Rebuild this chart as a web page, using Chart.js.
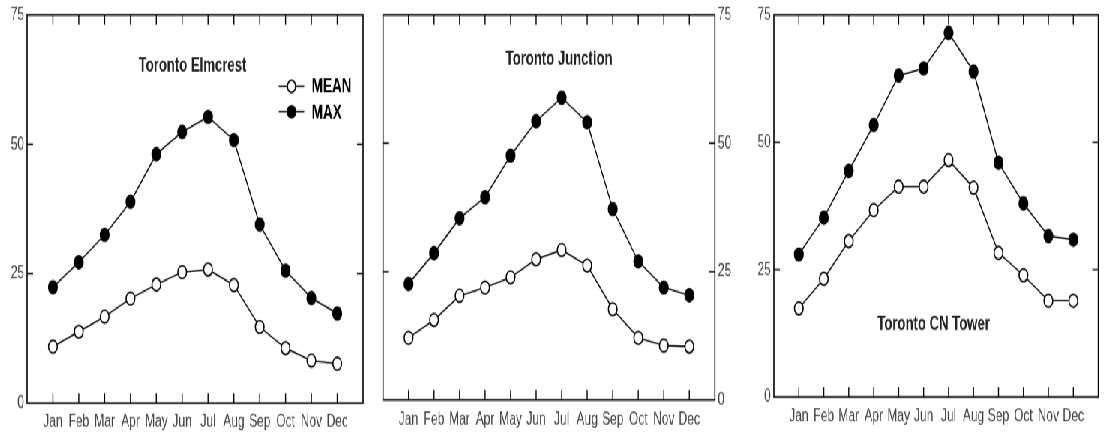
<!DOCTYPE html>
<html>
<head>
<meta charset="utf-8">
<script src="https://cdn.jsdelivr.net/npm/chart.js@4/dist/chart.umd.min.js"></script>
<style>
    html, body { margin: 0; padding: 0; background: #fff; overflow: hidden; }
    #wrap {
        position: absolute; left: 0; top: 0;
        width: 1472px; height: 405px;
        transform: scale(0.75, 1.1); transform-origin: 0 0;
    }
    #wrap canvas { position: absolute; top: 0; }
</style>
</head>
<body>
<div id="wrap">
    <canvas id="c1" width="493" height="405" style="left:0px"></canvas>
    <canvas id="c2" width="494" height="405" style="left:493px"></canvas>
    <canvas id="c3" width="485" height="405" style="left:987px"></canvas>
</div>
<script>
// ============================
// Data
// ============================
const months = ['Jan', 'Feb', 'Mar', 'Apr', 'May', 'Jun', 'Jul', 'Aug', 'Sep', 'Oct', 'Nov', 'Dec'];
const yTicks = [0, 25, 50, 75];

const elmcrestMean = [10.9, 13.8, 16.7, 20.2, 22.9, 25.3, 25.8, 22.8, 14.7, 10.6, 8.2, 7.6];
const elmcrestMax = [22.4, 27.2, 32.5, 38.9, 48.1, 52.4, 55.3, 50.8, 34.5, 25.6, 20.3, 17.3];

const junctionMean = [12.1, 15.6, 20.3, 21.9, 23.9, 27.4, 29.2, 26.2, 17.7, 12.1, 10.6, 10.4];
const junctionMax = [22.6, 28.6, 35.4, 39.5, 47.6, 54.3, 58.9, 54.1, 37.2, 27.0, 21.9, 20.4];

const cnMean = [17.4, 23.2, 30.6, 36.7, 41.3, 41.3, 46.5, 41.1, 28.3, 23.9, 18.9, 18.9];
const cnMax = [28.0, 35.2, 44.4, 53.4, 63.1, 64.5, 71.5, 63.9, 46.0, 38.0, 31.6, 30.9];

const legendLabels = ['MEAN', 'MAX'];

const FONT = "'Liberation Sans', Arial, sans-serif";

// ============================
// Cadre, graduations vers l'interieur, titre et legende
// ============================
const framePlugin = {
    id: 'frame',
    afterDraw(chart, args, opts) {
        const ctx = chart.ctx;
        const a = chart.chartArea;
        const x = chart.scales.x;
        const y = chart.scales.y;
        ctx.save();
        ctx.strokeStyle = '#000';
        ctx.lineWidth = 1.6;
        ctx.strokeRect(a.left, a.top, a.right - a.left, a.bottom - a.top);

        ctx.lineWidth = 1.4;
        ctx.beginPath();
        months.forEach((m, i) => {
            const px = x.getPixelForValue(i);
            ctx.moveTo(px, a.bottom);
            ctx.lineTo(px, a.bottom - 9);
            ctx.moveTo(px, a.top);
            ctx.lineTo(px, a.top + 9);
        });
        [25, 50].forEach(v => {
            const py = y.getPixelForValue(v);
            ctx.moveTo(a.left, py);
            ctx.lineTo(a.left + 8, py);
            ctx.moveTo(a.right, py);
            ctx.lineTo(a.right - 8, py);
        });
        ctx.stroke();

        // titre
        ctx.fillStyle = '#222';
        ctx.font = 'bold 17.5px ' + FONT;
        ctx.textAlign = 'center';
        ctx.textBaseline = 'middle';
        ctx.fillText(opts.title, x.getPixelForValue(opts.titleAt[0]), y.getPixelForValue(opts.titleAt[1]));

        // legende
        if (opts.legendAt) {
            const lx = x.getPixelForValue(opts.legendAt[0]);
            chart.data.datasets.forEach((ds, i) => {
                const ly = y.getPixelForValue(opts.legendAt[1] - i * 4.9);
                ctx.strokeStyle = '#000';
                ctx.lineWidth = 1.4;
                ctx.beginPath();
                ctx.moveTo(lx - 17, ly);
                ctx.lineTo(lx + 17, ly);
                ctx.stroke();
                ctx.beginPath();
                ctx.arc(lx, ly, 5.5, 0, Math.PI * 2);
                ctx.fillStyle = ds.pointBackgroundColor;
                ctx.fill();
                ctx.lineWidth = 1.6;
                ctx.stroke();
                ctx.fillStyle = '#000';
                ctx.font = 'bold 18px ' + FONT;
                ctx.textAlign = 'left';
                ctx.fillText(legendLabels[i], lx + 27, ly + 1);
            });
        }
        ctx.restore();
    }
};

// ============================
// Un panneau
// ============================
function creerPanneau(id, mean, max, cfg) {
    const serie = (label, data, fill) => ({
        label: label,
        data: data.map((v, i) => ({ x: i, y: v })),
        borderColor: '#000',
        borderWidth: 1.4,
        pointRadius: 5.8,
        pointBorderWidth: 1.6,
        pointBorderColor: '#000',
        pointBackgroundColor: fill,
        tension: 0
    });

    return new Chart(document.getElementById(id), {
        type: 'line',
        data: {
            datasets: [serie(legendLabels[0], mean, '#fff'), serie(legendLabels[1], max, '#000')]
        },
        options: {
            responsive: false,
            animation: false,
            devicePixelRatio: 1,
            layout: { padding: cfg.padding },
            plugins: {
                legend: { display: false },
                tooltip: { enabled: false },
                frame: { title: cfg.title, titleAt: cfg.titleAt, legendAt: cfg.legendAt }
            },
            scales: {
                x: {
                    type: 'linear',
                    min: -1,
                    max: 12,
                    grid: { display: false, drawTicks: false },
                    border: { display: false },
                    afterBuildTicks: s => { s.ticks = months.map((m, i) => ({ value: i })); },
                    afterFit: s => { s.height = cfg.xHeight; },
                    ticks: {
                        autoSkip: false,
                        maxRotation: 0,
                        padding: 8,
                        color: '#444',
                        font: { family: FONT, size: 16 },
                        callback: v => months[v]
                    }
                },
                y: {
                    position: cfg.yPosition,
                    min: 0,
                    max: 75,
                    grid: { display: false, drawTicks: false },
                    border: { display: false },
                    afterBuildTicks: s => { s.ticks = yTicks.map(v => ({ value: v })); },
                    afterFit: s => { s.width = cfg.yWidth; },
                    ticks: {
                        padding: 4,
                        color: '#444',
                        font: { family: FONT, size: 16 }
                    }
                }
            }
        },
        plugins: [framePlugin]
    });
}

creerPanneau('c1', elmcrestMean, elmcrestMax, {
    title: 'Toronto Elmcrest',
    titleAt: [5.4, 65],
    legendAt: [9.23, 61.2],
    yPosition: 'left',
    yWidth: 36,
    xHeight: 38.6,
    padding: { top: 11.8, bottom: 0, left: 0, right: 9 }
});

creerPanneau('c2', junctionMean, junctionMax, {
    title: 'Toronto Junction',
    titleAt: [5.9, 66.4],
    legendAt: null,
    yPosition: 'right',
    yWidth: 33.7,
    xHeight: 41.4,
    padding: { top: 12.7, bottom: 0, left: 17.7, right: 0 }
});

creerPanneau('c3', cnMean, cnMax, {
    title: 'Toronto CN Tower',
    titleAt: [5.4, 14.1],
    legendAt: null,
    yPosition: 'left',
    yWidth: 45,
    xHeight: 44.1,
    padding: { top: 13.6, bottom: 0, left: 0, right: 2.7 }
});
</script>
</body>
</html>
